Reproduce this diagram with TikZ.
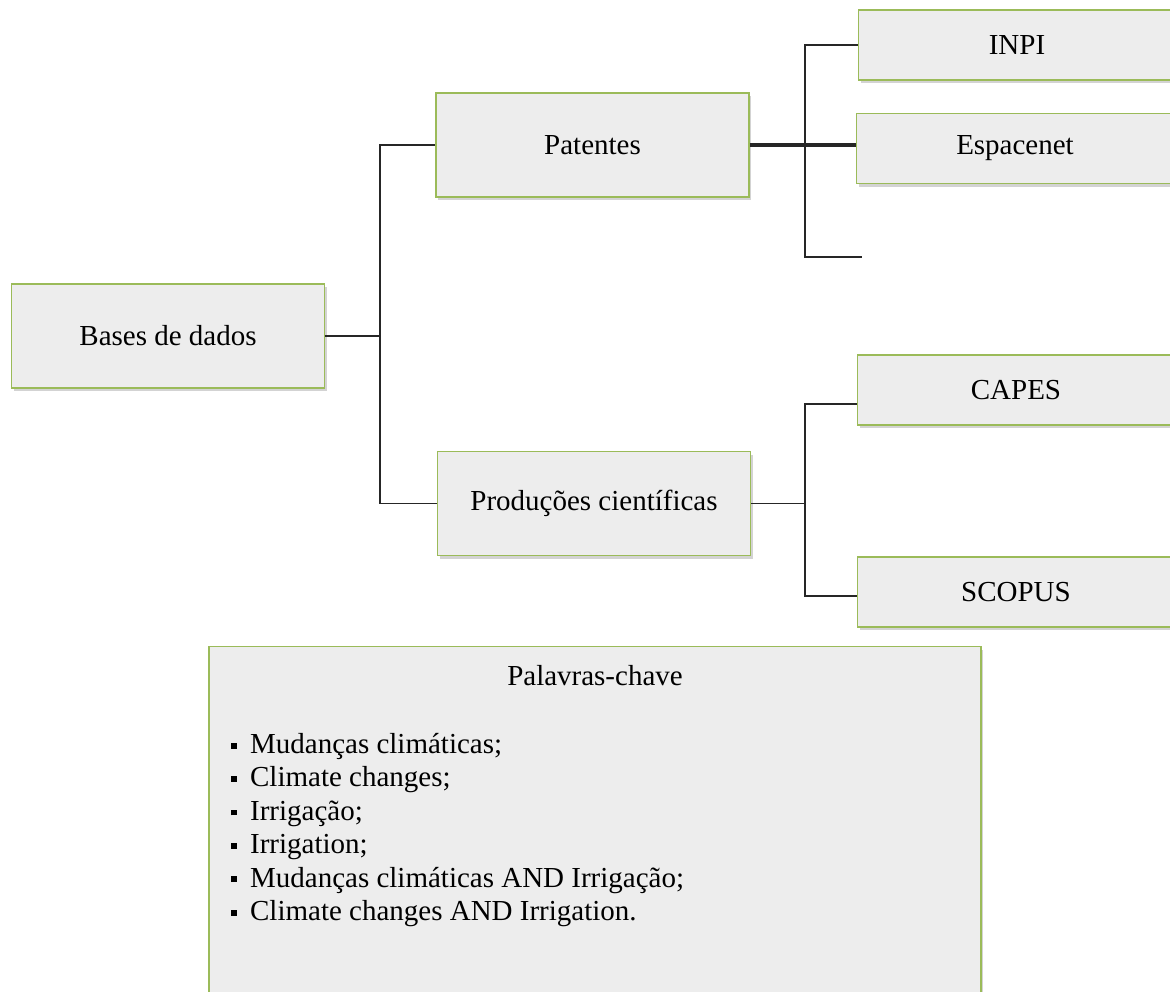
\documentclass[tikz,border=0pt]{standalone}
\usepackage{fontspec}
\setmainfont{Liberation Serif}
\usepackage{tikz}
\usetikzlibrary{positioning,shadows}
\definecolor{boxfill}{RGB}{237,237,237}
\definecolor{boxedge}{RGB}{155,187,89}
\newcommand{\sqbul}{\rule[2.8pt]{3.3pt}{3.3pt}\hspace{7.4pt}}

\begin{document}
\begin{tikzpicture}[x=0.02cm, y=-0.02cm,
    dbbox/.style={draw=boxedge, line width=1pt, fill=boxfill,
      drop shadow={shadow xshift=1.2pt, shadow yshift=-1.8pt, opacity=0.35},
      font=\fontsize{16.5}{19}\selectfont, minimum width=6.26cm, minimum height=2.08cm},
    srcbox/.style={dbbox, minimum width=6.34cm, minimum height=1.4cm},
    link/.style={draw=black!85, line width=0.9pt}]
    \useasboundingbox (0,0) rectangle (1170,991);
    % main boxes
    \node[dbbox] (bases) at (168,336) {Bases de dados};
    \node[dbbox] (pat) at (592.5,145) {Patentes};
    \node[dbbox] (prod) at (594,503.5) {Produções científicas};
    % sources
    \node[srcbox] (inpi) at (1017,45) {INPI};
    \node[srcbox] (esp) at (1015,148.5) {Espacenet};
    \node[srcbox] (capes) at (1016,390) {CAPES};
    \node[srcbox] (scopus) at (1016,592) {SCOPUS};

    % Bases -> Patentes / Producoes
    \coordinate (j1) at (380,336);
    \draw[link, line width=1.2pt] (bases.east) -- (j1);
    \draw[link] (j1) |- (pat.west);
    \draw[link] (j1) |- (prod.west);
    % Patentes -> INPI, Espacenet
    \coordinate (j2) at (805,147);
    \coordinate (tail) at (862,257);
    \draw[link] (inpi.west) -| (j2) |- (tail);
    \draw[link, line width=2.3pt] (pat.east) -- (pat.east -| esp.west);
    % Producoes -> CAPES, SCOPUS
    \coordinate (j3) at (805,503.5);
    \draw[link] (prod.east) -- (j3);
    \draw[link] ([yshift=-0.28cm]capes.west) -| (j3) |- ([yshift=-0.08cm]scopus.west);

    % keywords
    \node[dbbox, minimum width=15.44cm, minimum height=7.3cm] (kwbox) at (595,829) {};
    \node[font=\fontsize{16.5}{19}\selectfont] (kwtitle) at (595,676) {Palavras-chave};
    \node[anchor=north west, inner sep=0pt, align=left,
          font=\fontsize{16.5}{19}\selectfont] (kwlist) at (231,733)
      {\sqbul Mudanças climáticas;\\
       \sqbul Climate changes;\\
       \sqbul Irrigação;\\
       \sqbul Irrigation;\\
       \sqbul Mudanças climáticas AND Irrigação;\\
       \sqbul Climate changes AND Irrigation.};
\end{tikzpicture}
\end{document}
